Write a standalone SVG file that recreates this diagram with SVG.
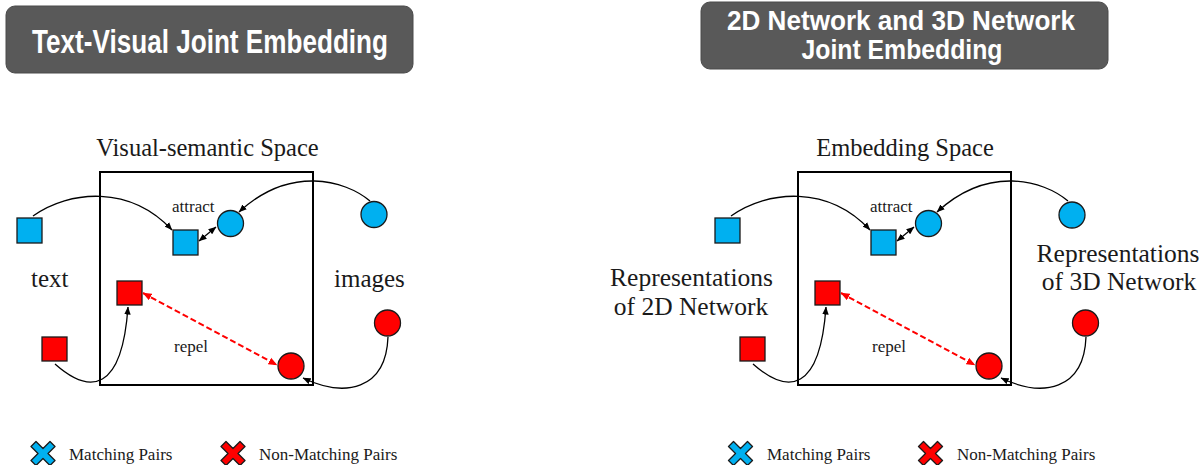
<svg xmlns="http://www.w3.org/2000/svg" width="1203" height="465" viewBox="0 0 1203 465">
<style>
.hdr{fill:#595959;stroke:#4a4a4a;stroke-width:1}
.htxt{font-family:"Liberation Sans",Arial,sans-serif;font-weight:bold;fill:#ffffff;text-anchor:middle}
.serif{font-family:"Liberation Serif","Times New Roman",serif;fill:#1a1a1a}
.space{fill:none;stroke:#000;stroke-width:2}
.blue{fill:#00B0F0;stroke:#1a1a1a;stroke-width:1.3}
.red{fill:#FF0000;stroke:#1a1a1a;stroke-width:1.3}
.conn{fill:none;stroke:#000;stroke-width:1.3}
.rep{fill:none;stroke:#FF0000;stroke-width:2;stroke-dasharray:6 3}
.big{font-size:25px}
.big2{font-size:25.5px}
.lbl{font-size:17px}
.ttl{font-size:24.5px;text-anchor:middle}
.xmark{stroke:#1a1a1a;stroke-width:1.3;stroke-linejoin:round}
</style>
<defs>
<marker id="ab" viewBox="0 0 10 8" refX="9.5" refY="4" markerWidth="8" markerHeight="7" markerUnits="userSpaceOnUse" orient="auto-start-reverse">
<path d="M0,0 L10,4 L0,8 z" fill="#000"/>
</marker>
<marker id="ar" viewBox="0 0 10 8" refX="9.5" refY="4" markerWidth="9" markerHeight="8" markerUnits="userSpaceOnUse" orient="auto-start-reverse">
<path d="M0,0 L10,4 L0,8 z" fill="#FF0000"/>
</marker>
<polygon id="xs" points="-12,-7 -7,-12 0,-5 7,-12 12,-7 5,0 12,7 7,12 0,5 -7,12 -12,7 -5,0"/>
</defs>

<!-- Left panel -->
<g id="header-left">
<rect class="hdr" x="6" y="6" width="407" height="67" rx="9"/>
<text class="htxt" x="210" y="53" font-size="33" textLength="356" lengthAdjust="spacingAndGlyphs">Text-Visual Joint Embedding</text>
</g>
<g id="space-left">
<rect class="space" x="100" y="172" width="213" height="213"/>
<text class="serif ttl" x="207.5" y="156">Visual-semantic Space</text>
</g>
<g id="text-blue-sq"><rect class="blue" x="17" y="218" width="25" height="25"/></g>
<g id="text-red-sq"><rect class="red" x="42" y="337" width="25" height="24"/></g>
<g id="emb-blue-sq"><rect class="blue" x="173" y="230" width="25" height="25"/></g>
<g id="emb-blue-circ"><circle class="blue" cx="230.5" cy="223.5" r="13"/></g>
<g id="emb-red-sq"><rect class="red" x="117" y="281" width="25" height="24"/></g>
<g id="emb-red-circ"><circle class="red" cx="291" cy="366" r="13"/></g>
<g id="img-blue-circ"><circle class="blue" cx="374" cy="214.5" r="13"/></g>
<g id="img-red-circ"><circle class="red" cx="387.5" cy="323" r="13"/></g>
<g id="labels-left">
<text class="serif big" x="31" y="286.5">text</text>
<text class="serif big" x="334" y="286.5">images</text>
<text class="serif lbl" x="172" y="212">attract</text>
<text class="serif lbl" x="174" y="352">repel</text>
</g>
<g id="connectors-left">
<path class="conn" d="M33 216 C70 190,130 185,172 230" marker-end="url(#ab)"/>
<path class="conn" d="M370 201 C345 180,290 165,239 212" marker-end="url(#ab)"/>
<path class="conn" d="M55 364 C90 395,122 392,128 307" marker-end="url(#ab)"/>
<path class="conn" d="M388 337 C386 390,345 398,303 378" marker-end="url(#ab)"/>
<path class="conn" d="M199 241 L216 227" marker-start="url(#ab)" marker-end="url(#ab)"/>
<path class="rep" d="M143 293 L277 365" marker-start="url(#ar)" marker-end="url(#ar)"/>
</g>
<g id="legend-left">
<use href="#xs" class="xmark" x="43" y="453.5" fill="#00B0F0"/>
<text class="serif lbl" x="69" y="460">Matching Pairs</text>
<use href="#xs" class="xmark" x="233" y="453.5" fill="#FF0000"/>
<text class="serif lbl" x="259" y="460">Non-Matching Pairs</text>
</g>

<!-- Right panel -->
<g id="header-right">
<rect class="hdr" x="701" y="2" width="407" height="67" rx="9"/>
<text class="htxt" x="901" y="29.5" font-size="28" textLength="348" lengthAdjust="spacingAndGlyphs">2D Network and 3D Network</text>
<text class="htxt" x="902" y="58.5" font-size="28" textLength="201" lengthAdjust="spacingAndGlyphs">Joint Embedding</text>
</g>
<g id="space-right">
<rect class="space" x="798" y="172" width="213" height="213"/>
<text class="serif ttl" x="905" y="156">Embedding Space</text>
</g>
<g id="n2d-blue-sq"><rect class="blue" x="715" y="218" width="25" height="25"/></g>
<g id="n2d-red-sq"><rect class="red" x="740" y="337" width="25" height="24"/></g>
<g id="emb2-blue-sq"><rect class="blue" x="871" y="230" width="25" height="25"/></g>
<g id="emb2-blue-circ"><circle class="blue" cx="928.5" cy="223.5" r="13"/></g>
<g id="emb2-red-sq"><rect class="red" x="815" y="281" width="25" height="24"/></g>
<g id="emb2-red-circ"><circle class="red" cx="989" cy="366" r="13"/></g>
<g id="n3d-blue-circ"><circle class="blue" cx="1072" cy="215" r="13"/></g>
<g id="n3d-red-circ"><circle class="red" cx="1085.5" cy="323" r="13"/></g>
<g id="labels-right">
<text class="serif big2" x="691.5" y="286" text-anchor="middle">Representations</text>
<text class="serif big2" x="691" y="315" text-anchor="middle">of 2D Network</text>
<text class="serif big2" x="1118" y="262" text-anchor="middle">Representations</text>
<text class="serif big2" x="1119" y="290" text-anchor="middle">of 3D Network</text>
<text class="serif lbl" x="870" y="212">attract</text>
<text class="serif lbl" x="872" y="352">repel</text>
</g>
<g id="connectors-right">
<path class="conn" d="M731 216 C768 190,828 185,870 230" marker-end="url(#ab)"/>
<path class="conn" d="M1068 201 C1043 180,988 165,937 212" marker-end="url(#ab)"/>
<path class="conn" d="M753 364 C788 395,820 392,826 307" marker-end="url(#ab)"/>
<path class="conn" d="M1086 337 C1084 390,1043 398,1001 378" marker-end="url(#ab)"/>
<path class="conn" d="M897 241 L914 227" marker-start="url(#ab)" marker-end="url(#ab)"/>
<path class="rep" d="M841 293 L975 365" marker-start="url(#ar)" marker-end="url(#ar)"/>
</g>
<g id="legend-right">
<use href="#xs" class="xmark" x="740.5" y="453.5" fill="#00B0F0"/>
<text class="serif lbl" x="767" y="460">Matching Pairs</text>
<use href="#xs" class="xmark" x="930.5" y="453.5" fill="#FF0000"/>
<text class="serif lbl" x="957" y="460">Non-Matching Pairs</text>
</g>
</svg>
